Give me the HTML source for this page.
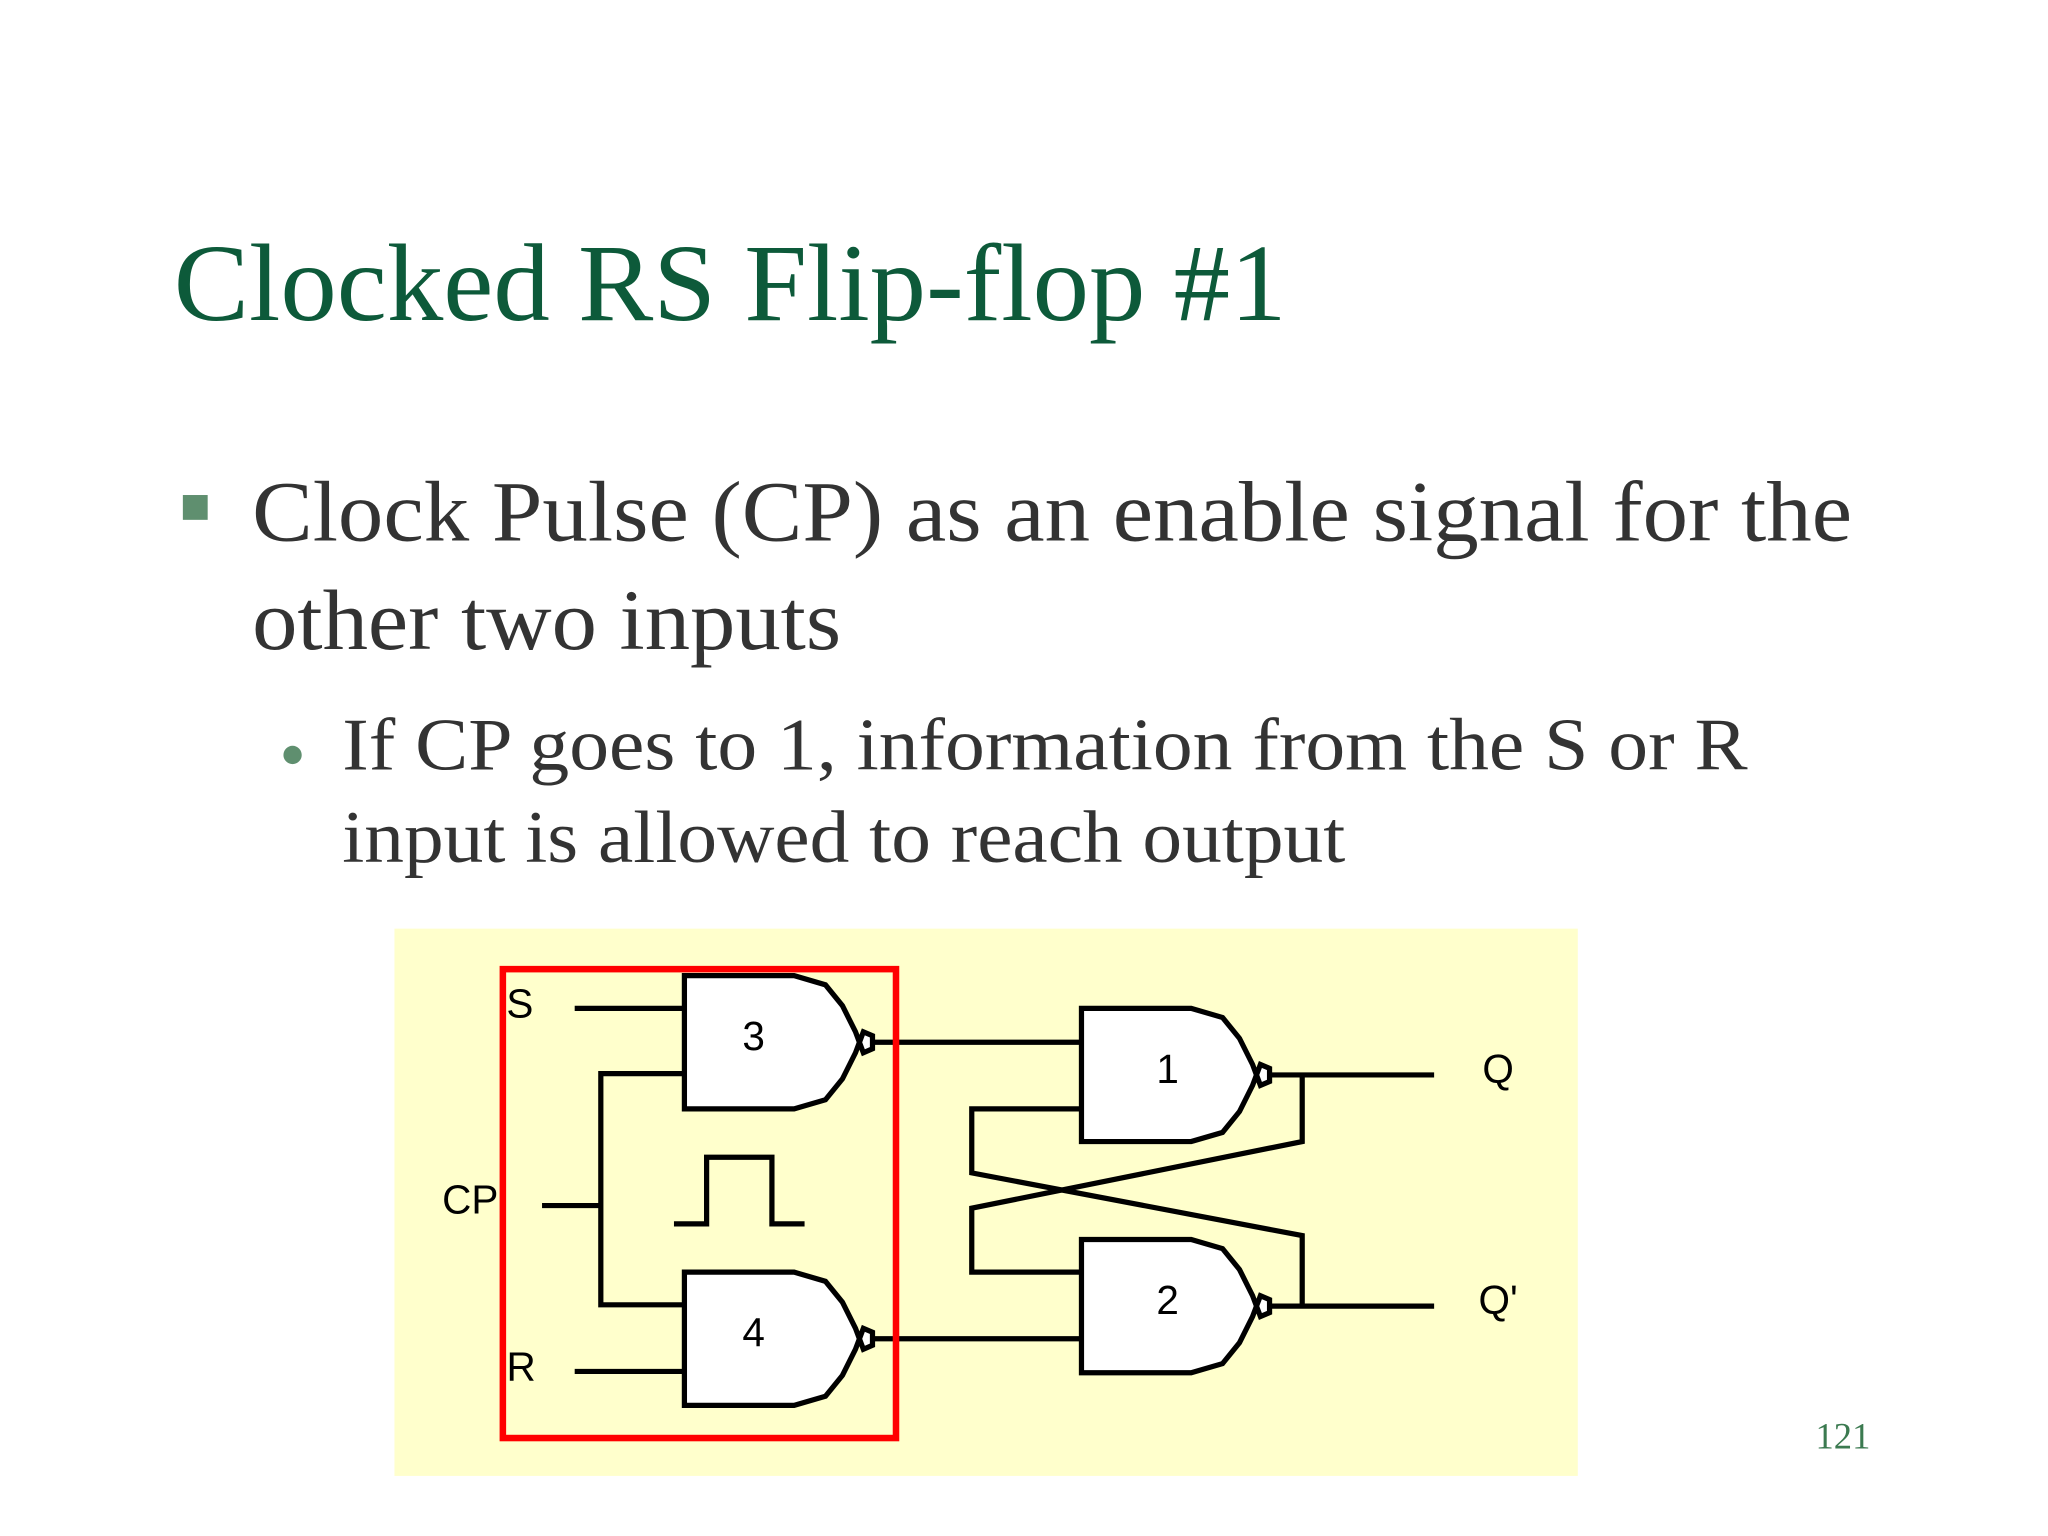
<!DOCTYPE html>
<html><head><meta charset="utf-8"><style>
html,body{margin:0;padding:0;background:#fff;}
svg{display:block;}
</style></head><body>
<svg width="2048" height="1536" viewBox="0 0 1568 1176" xmlns="http://www.w3.org/2000/svg">
<rect width="1568" height="1176" fill="#fff"/>
<text x="133" y="245" font-family="Liberation Serif, serif" font-size="84" fill="#0d5a3a" textLength="852" lengthAdjust="spacingAndGlyphs">Clocked RS Flip-flop #1</text>
<rect x="140" y="379" width="19" height="19" fill="#5f8f6f"/>
<text font-family="Liberation Serif, serif" font-size="66" fill="#333">
<tspan x="193" y="414" textLength="1225" lengthAdjust="spacingAndGlyphs">Clock Pulse (CP) as an enable signal for the</tspan></text>
<text font-family="Liberation Serif, serif" font-size="66" fill="#333"><tspan x="193" y="497" textLength="451" lengthAdjust="spacingAndGlyphs">other two inputs</tspan></text>
<circle cx="224" cy="578" r="7" fill="#5f8f6f"/>
<text font-family="Liberation Serif, serif" font-size="57" fill="#333"><tspan x="262" y="589" textLength="1076" lengthAdjust="spacingAndGlyphs">If CP goes to 1, information from the S or R</tspan></text>
<text font-family="Liberation Serif, serif" font-size="57" fill="#333"><tspan x="262" y="660" textLength="768" lengthAdjust="spacingAndGlyphs">input is allowed to reach output</tspan></text>
<text x="1390" y="1109" font-family="Liberation Serif, serif" font-size="28" fill="#3b7a50">121</text>

<rect x="302" y="711" width="906" height="419" fill="#ffffcc"/>
<g fill="#fff" stroke="#000" stroke-width="4" stroke-linejoin="miter">
<polygon points="524,747 608,747 632,754 645,770 655,790 658,798 655,806 645,826 632,842 608,849 524,849"/>
<polygon points="524,974 608,974 632,981 645,997 655,1017 658,1025 655,1033 645,1053 632,1069 608,1076 524,1076"/>
<polygon points="828,772 912,772 936,779 949,795 959,815 962,823 959,831 949,851 936,867 912,874 828,874"/>
<polygon points="828,949 912,949 936,956 949,972 959,992 962,1000 959,1008 949,1028 936,1044 912,1051 828,1051"/>
<polygon points="658,798 661,790 668,793 668,803 661,806"/>
<polygon points="658,1025 661,1017 668,1020 668,1030 661,1033"/>
<polygon points="962,823 965,815 972,818 972,828 965,831"/>
<polygon points="962,1000 965,992 972,995 972,1005 965,1008"/>
</g>
<g fill="none" stroke="#000" stroke-width="4">
<line x1="440" y1="772" x2="524" y2="772"/>
<polyline points="524,822 460,822 460,999 524,999"/>
<line x1="415" y1="923" x2="460" y2="923"/>
<line x1="440" y1="1050" x2="524" y2="1050"/>
<line x1="668" y1="798" x2="828" y2="798"/>
<line x1="668" y1="1025" x2="828" y2="1025"/>
<line x1="972" y1="823" x2="1098" y2="823"/>
<line x1="972" y1="1000" x2="1098" y2="1000"/>
<polyline points="997,823 997,874 744,925 744,974 828,974"/>
<polyline points="828,849 744,849 744,898 997,946 997,1000"/>
<polyline points="516,937 541,937 541,886 591,886 591,937 616,937"/>
</g>
<rect x="385" y="742" width="301" height="359" fill="none" stroke="#f00" stroke-width="5"/>
<g font-family="Liberation Sans, sans-serif" font-size="31" fill="#000" text-anchor="middle">
<text x="398" y="779">S</text>
<text x="360" y="929">CP</text>
<text x="399" y="1057">R</text>
<text x="577" y="804">3</text>
<text x="577" y="1031">4</text>
<text x="894" y="829">1</text>
<text x="894" y="1006">2</text>
<text x="1147" y="829">Q</text>
<text x="1147" y="1006">Q'</text>
</g>
</svg>
</body></html>
